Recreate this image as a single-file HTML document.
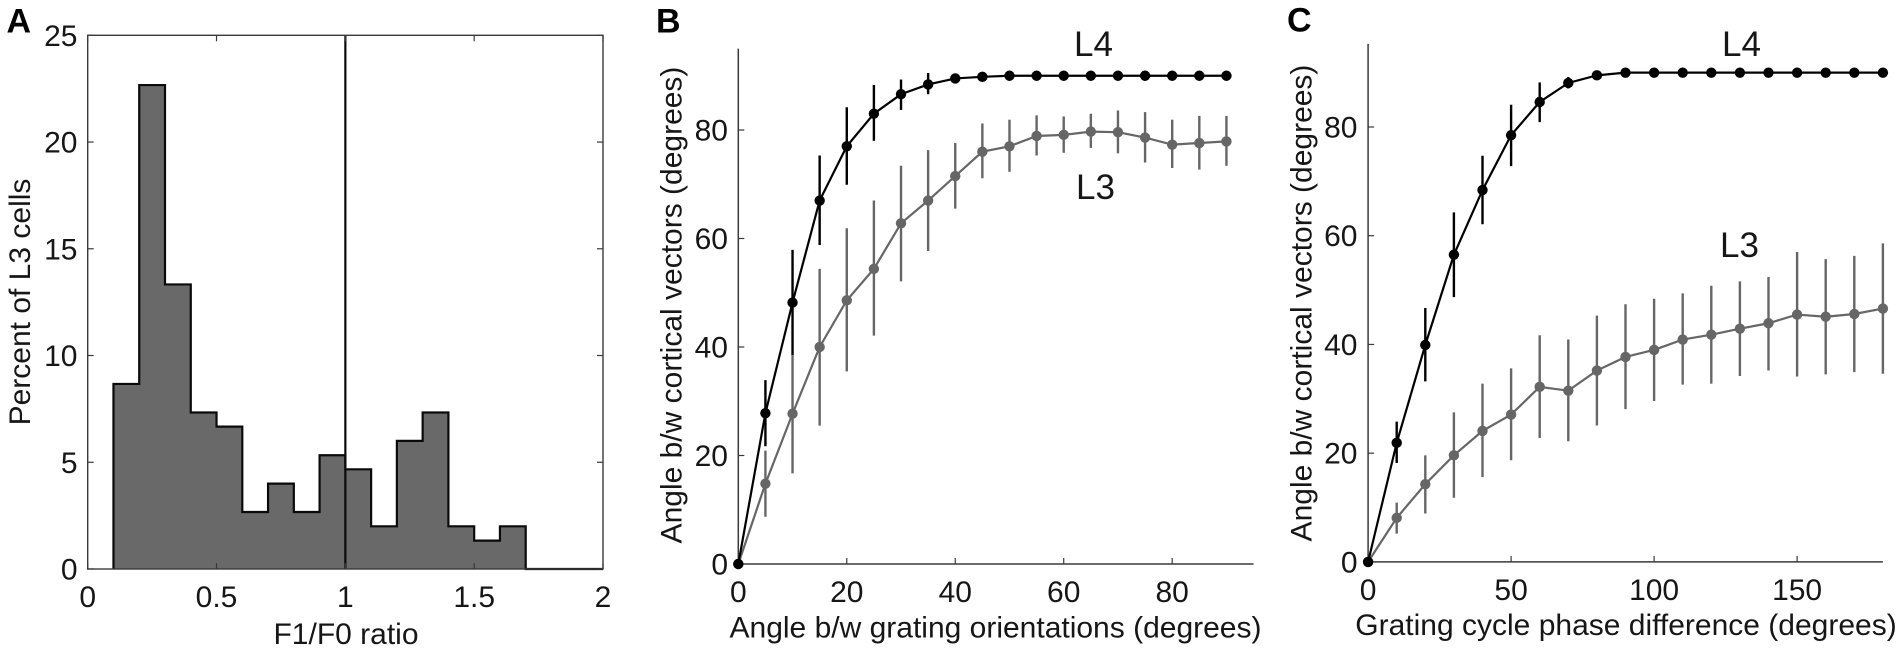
<!DOCTYPE html>
<html lang="en">
<head>
<meta charset="utf-8">
<title>Panels A, B and C</title>
<style>
  html, body { margin: 0; padding: 0; background: #fff; }
  body { width: 1902px; height: 651px; overflow: hidden; }
  svg { display: block; }
  text { font-family: "Liberation Sans", sans-serif; fill: #161616; font-size: 30px; }
  .panel-letter { font-weight: bold; font-size: 34px; fill: #000; }
  .series-label { font-size: 35px; }
</style>
</head>
<body>
<svg id="fig" width="1902" height="651" viewBox="0 0 1902 651" xmlns="http://www.w3.org/2000/svg">
  <rect x="0" y="0" width="1902" height="651" fill="#fff"/>

  <g id="panelA"></g>
  <g id="panelB"></g>
  <g id="panelC"></g>

  <text class="panel-letter" x="6.5" y="32.5">A</text>
  <text class="panel-letter" x="656" y="32.5">B</text>
  <text class="panel-letter" x="1287" y="31.5">C</text>

  <text x="346" y="644" text-anchor="middle">F1/F0 ratio</text>
  <text transform="translate(30 302) rotate(-90)" text-anchor="middle">Percent of L3 cells</text>

  <text x="995.5" y="637.5" text-anchor="middle">Angle b/w grating orientations (degrees)</text>
  <text transform="translate(681.5 305) rotate(-90)" text-anchor="middle">Angle b/w cortical vectors (degrees)</text>
  <text class="series-label" x="1074" y="56">L4</text>
  <text class="series-label" x="1076" y="199">L3</text>

  <text x="1626" y="635" text-anchor="middle">Grating cycle phase difference (degrees)</text>
  <text transform="translate(1311.5 303) rotate(-90)" text-anchor="middle">Angle b/w cortical vectors (degrees)</text>
  <text class="series-label" x="1722" y="56">L4</text>
  <text class="series-label" x="1720" y="257">L3</text>
</svg>

<script>
// Panel A data
const histBinStarts = [0.1,0.2,0.3,0.4,0.5,0.6,0.7,0.8,0.9,1.0,1.1,1.2,1.3,1.4,1.5,1.6,1.7,1.8,1.9];
const histPercents = [8.67,22.67,13.33,7.33,6.67,2.67,4,2.67,5.33,4.67,2,6,7.33,2,1.33,2,0,0,0];
const histBinWidth = 0.1;
const histRefLine = [1];
const histXTicks = [0,0.5,1,1.5,2];
const histYTicks = [0,5,10,15,20,25];

// Panel B data
const bAngles = [0,5,10,15,20,25,30,35,40,45,50,55,60,65,70,75,80,85,90];
const bL4Mean = [0,27.8,48.2,67,77,83,86.6,88.4,89.5,89.8,90,90,90,90,90,90,90,90,90];
const bL4Upper = [0,33.9,57.9,75.3,84.2,88.3,89.3,90.5,89.5,89.8,90,90,90,90,90,90,90,90,90];
const bL4Lower = [0,21.7,38.5,58.8,69.9,78,83.7,86.6,89.5,89.8,90,90,90,90,90,90,90,90,90];
const bL3Mean = [0,14.8,27.7,40,48.6,54.4,62.8,67,71.5,76,77,78.9,79.1,79.7,79.6,78.6,77.3,77.6,77.9];
const bL3Upper = [0,20.9,38.5,54.4,61.9,67,73.4,76.3,77.6,81.2,81.9,82.7,82.5,83,83.6,83.3,81.9,82.6,82.6];
const bL3Lower = [0,8.7,16.7,25.5,35.5,42.1,52.1,57.7,65.5,71.1,72.3,75.3,75.8,76.7,75.7,74,73,72.7,73.4];
const bXTicks = [0,20,40,60,80];
const bYTicks = [0,20,40,60,80];

// Panel C data
const cPhases = [0,10,20,30,40,50,60,70,80,90,100,110,120,130,140,150,160,170,180];
const cL4Mean = [0,21.9,39.9,56.5,68.4,78.5,84.6,88.1,89.5,90,90,90,90,90,90,90,90,90,90];
const cL4Upper = [0,25.8,46.7,64.3,74.7,84.1,88.2,89.2,89.5,90,90,90,90,90,90,90,90,90,90];
const cL4Lower = [0,18.2,33.2,48.7,62.1,72.8,80.9,87.1,89.5,90,90,90,90,90,90,90,90,90,90];
const cL3Mean = [0,8.1,14.3,19.6,24.1,27.1,32.2,31.5,35.2,37.7,39,40.9,41.8,42.9,43.9,45.5,45.1,45.6,46.6];
const cL3Upper = [0,10.9,19.6,27.5,32.8,35.6,41.7,40.9,45.3,47.4,48.4,49.4,50.8,51.6,52.4,57,55.7,56.3,58.6];
const cL3Lower = [0,5.2,8.9,11.8,15.6,18.7,22.8,22.2,25.1,28.1,29.6,32.6,32.8,34.2,35.2,34.1,34.5,34.9,34.6];
const cXTicks = [0,50,100,150];
const cYTicks = [0,20,40,60,80];

const SVG_NS = 'http://www.w3.org/2000/svg';
const BLACK = '#000000';
const GRAY = '#666666';
const AXIS = '#3a3a3a';

function make(parent, tag, attrs, content) {
  const node = document.createElementNS(SVG_NS, tag);
  for (const key in attrs) node.setAttribute(key, attrs[key]);
  if (content !== undefined) node.textContent = content;
  parent.appendChild(node);
  return node;
}
function scale(d0, d1, r0, r1) {
  return function (v) { return r0 + (v - d0) * (r1 - r0) / (d1 - d0); };
}

/* ---------- Panel A ---------- */
(function () {
  const g = document.getElementById('panelA');
  const x = scale(0, 2, 87.7, 603);
  const y = scale(0, 25, 569, 35.3);

  histBinStarts.forEach(function (start, i) {
    const bar = make(g, 'rect', {
      x: x(start), y: y(histPercents[i]),
      width: x(start + histBinWidth) - x(start),
      height: y(0) - y(histPercents[i]),
      fill: '#696969',
      'shape-rendering': 'crispEdges'
    });
    
    
  });

  let d = 'M' + x(histBinStarts[0]) + ' ' + y(0);
  histBinStarts.forEach(function (start, i) {
    d += 'L' + x(start) + ' ' + y(histPercents[i]);
    d += 'L' + x(start + histBinWidth) + ' ' + y(histPercents[i]);
  });
  const outline = make(g, 'path', { d: d, fill: 'none', stroke: '#0a0a0a', 'stroke-width': 2.2 });
  
  

  histRefLine.forEach(function (v) {
    const ref = make(g, 'line', { x1: x(v), x2: x(v), y1: y(25), y2: y(0), stroke: '#0a0a0a', 'stroke-width': 2.2 });
    
    
  });

  const box = make(g, 'rect', {
    x: x(0), y: y(25), width: x(2) - x(0), height: y(0) - y(25),
    fill: 'none', stroke: AXIS, 'stroke-width': 1.4
  });
  
  

  histXTicks.forEach(function (v) {
    const bottomTick = make(g, 'line', { x1: x(v), x2: x(v), y1: y(0), y2: y(0) - 6, stroke: AXIS, 'stroke-width': 1.2 });
    
    
    const topTick = make(g, 'line', { x1: x(v), x2: x(v), y1: y(25), y2: y(25) + 6, stroke: AXIS, 'stroke-width': 1.2 });
    
    
    const label = make(g, 'text', { x: x(v), y: 607, 'text-anchor': 'middle' }, String(v));
    
    
  });
  histYTicks.forEach(function (v) {
    const leftTick = make(g, 'line', { x1: x(0), x2: x(0) + 6, y1: y(v), y2: y(v), stroke: AXIS, 'stroke-width': 1.2 });
    
    
    const rightTick = make(g, 'line', { x1: x(2), x2: x(2) - 6, y1: y(v), y2: y(v), stroke: AXIS, 'stroke-width': 1.2 });
    
    
    const label = make(g, 'text', { x: 77.5, y: y(v) + 10.5, 'text-anchor': 'end' }, String(v));
    
    
  });
})();

/* ---------- Line panels ---------- */
function drawSeries(g, xs, mean, upper, lower, x, y, color, name) {
  const group = make(g, 'g', {});
  
  

  xs.forEach(function (v, i) {
    if (upper[i] === lower[i]) return;
    const bar = make(group, 'line', {
      x1: x(v), x2: x(v), y1: y(upper[i]), y2: y(lower[i]),
      stroke: color, 'stroke-width': 2.4
    });
    
    
  });

  const pts = xs.map(function (v, i) { return x(v) + ',' + y(mean[i]); }).join(' ');
  const line = make(group, 'polyline', { points: pts, fill: 'none', stroke: color, 'stroke-width': 2.2 });
  
  

  xs.forEach(function (v, i) {
    const dot = make(group, 'circle', { cx: x(v), cy: y(mean[i]), r: 5.2, fill: color });
    
    
  });
}

function drawAxes(g, x, y, xEnd, yEnd, xTicks, yTicks, tickBaseline, yLabelRight) {
  const xAxis = make(g, 'line', { x1: x(0), x2: x(xEnd), y1: y(0), y2: y(0), stroke: AXIS, 'stroke-width': 1.5 });
  
  
  const yAxis = make(g, 'line', { x1: x(0), x2: x(0), y1: y(0), y2: y(yEnd), stroke: AXIS, 'stroke-width': 1.5 });
  
  

  xTicks.forEach(function (v) {
    const tick = make(g, 'line', { x1: x(v), x2: x(v), y1: y(0), y2: y(0) - 6, stroke: AXIS, 'stroke-width': 1.2 });
    
    
    const label = make(g, 'text', { x: x(v), y: tickBaseline, 'text-anchor': 'middle' }, String(v));
    
    
  });
  yTicks.forEach(function (v) {
    const tick = make(g, 'line', { x1: x(0), x2: x(0) + 6, y1: y(v), y2: y(v), stroke: AXIS, 'stroke-width': 1.2 });
    
    
    const label = make(g, 'text', { x: yLabelRight, y: y(v) + 10.5, 'text-anchor': 'end' }, String(v));
    
    
  });
}

/* ---------- Panel B ---------- */
(function () {
  const g = document.getElementById('panelB');
  const x = scale(0, 80, 738.3, 1172.2);
  const y = scale(0, 80, 564, 130);
  drawAxes(g, x, y, 95, 95, bXTicks, bYTicks, 602, 728);
  drawSeries(g, bAngles, bL3Mean, bL3Upper, bL3Lower, x, y, GRAY, 'l3');
  drawSeries(g, bAngles, bL4Mean, bL4Upper, bL4Lower, x, y, BLACK, 'l4');
})();

/* ---------- Panel C ---------- */
(function () {
  const g = document.getElementById('panelC');
  const x = scale(0, 150, 1368.1, 1797.1);
  const y = scale(0, 80, 561.9, 127);
  drawAxes(g, x, y, 180, 95.3, cXTicks, cYTicks, 600, 1357.5);
  drawSeries(g, cPhases, cL3Mean, cL3Upper, cL3Lower, x, y, GRAY, 'l3');
  drawSeries(g, cPhases, cL4Mean, cL4Upper, cL4Lower, x, y, BLACK, 'l4');
})();
</script>
</body>
</html>
